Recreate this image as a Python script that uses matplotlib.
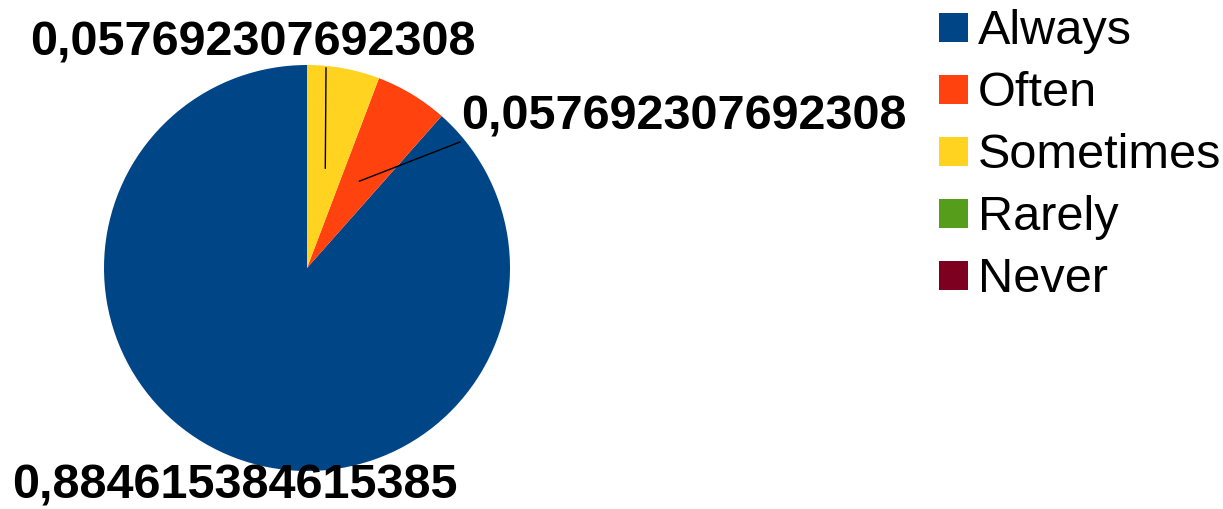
import numpy as np
import matplotlib.pyplot as plt
from matplotlib.patches import Rectangle

categories = ['Always', 'Often', 'Sometimes', 'Rarely', 'Never']
values = [0.884615384615385, 0.057692307692308, 0.057692307692308, 0.0, 0.0]
colors = ['#004586', '#ff420e', '#ffd320', '#579d1c', '#7e0021']

W, H = 1223, 509
fig = plt.figure(figsize=(W / 100, H / 100), dpi=100)
ax = fig.add_axes([0, 0, 1, 1])

cx, cy, R = 307, H - 268, 203
wedges, _ = ax.pie(values, colors=colors, startangle=90, counterclock=True,
                   center=(cx, cy), radius=R, frame=True,
                   wedgeprops=dict(linewidth=0))
ax.set_xlim(0, W)
ax.set_ylim(0, H)
ax.axis('off')

lab_font = dict(family='Liberation Sans', fontsize=35, fontweight='bold')

def fmt(v):
    return ('%.15f' % v).rstrip('0').replace('.', ',')

# label positions (pixel, top-down) and leader line ends
label_pos = {0: (235, 486), 1: (684, 117), 2: (253, 43)}
leader_end = {1: (460, 142), 2: (326, 68)}

for i, w in enumerate(wedges):
    if values[i] == 0:
        continue
    lx, ly = label_pos[i]
    ax.text(lx, H - ly, fmt(values[i]), ha='center', va='center', **lab_font)
    if i in leader_end:
        mid = np.deg2rad((w.theta1 + w.theta2) / 2)
        sx, sy = cx + 0.5 * R * np.cos(mid), cy + 0.5 * R * np.sin(mid)
        ex, ey = leader_end[i]
        ax.plot([sx, ex], [sy, H - ey], color='black', linewidth=1)

# legend
for i, (cat, col) in enumerate(zip(categories, colors)):
    yc = 27 + i * 62
    ax.add_patch(Rectangle((939, H - yc - 14.5), 29, 29, facecolor=col, edgecolor='none'))
    ax.text(978, H - yc - 4, cat, ha='left', va='center',
            family='Liberation Sans', fontsize=35)

fig.savefig('out.png', dpi=100)
